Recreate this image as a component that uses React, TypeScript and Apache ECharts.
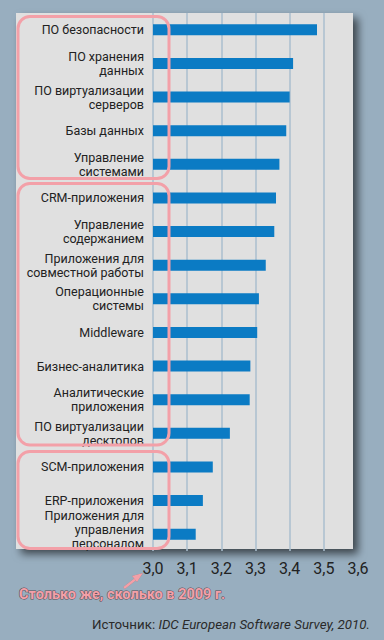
import React, { useEffect, useRef } from "react";
import * as echarts from "echarts";

const categories = [
  "ПО безопасности",
  "ПО хранения\nданных",
  "ПО виртуализации\nсерверов",
  "Базы данных",
  "Управление\nсистемами",
  "CRM-приложения",
  "Управление\nсодержанием",
  "Приложения для\nсовместной работы",
  "Операционные\nсистемы",
  "Middleware",
  "Бизнес-аналитика",
  "Аналитические\nприложения",
  "ПО виртуализации\nдесктопов",
  "SCM-приложения",
  "ERP-приложения",
  "Приложения для\nуправления\nперсоналом",
];
const values = [3.48, 3.41, 3.4, 3.39, 3.37, 3.36, 3.355, 3.33, 3.31, 3.305, 3.285, 3.283, 3.225, 3.175, 3.146, 3.125];
const tickMin = 3.0;
const tickMax = 3.6;
const tickStep = 0.1;
const note = "Столько же, сколько в 2009 г.";
const sourceLabel = "Источник: ";
const sourceText = "IDC European Software Survey, 2010.";

const FONT = "Roboto, 'Liberation Sans', sans-serif";
const PINK = "#f3a0a8";

export default function App() {
  const ref = useRef<HTMLDivElement>(null);
  useEffect(() => {
    document.body.style.margin = "0";
    const chart = echarts.init(ref.current!, null, { renderer: "svg" });
    const box = (x: number, y: number, w: number, h: number) => ({
      type: "rect",
      z: 50,
      shape: { x, y, width: w, height: h, r: 12 },
      style: { fill: "none", stroke: PINK, lineWidth: 3 },
    });
    chart.setOption({
      animation: false,
      backgroundColor: "#98aebf",
      grid: { left: 153, top: 13, width: 205, height: 538, containLabel: false },
      xAxis: {
        type: "value",
        min: tickMin,
        max: tickMax,
        interval: tickStep,
        axisLine: { show: false },
        axisTick: { show: false },
        axisLabel: {
          margin: 9,
          fontFamily: FONT,
          fontSize: 16,
          color: "#222",
          formatter: (v: number) => v.toFixed(1).replace(".", ","),
        },
        splitLine: { show: true, showMaxLine: false, lineStyle: { color: "#abbfcf", width: 1.5 } },
      },
      yAxis: {
        type: "category",
        data: categories,
        inverse: true,
        axisLine: { show: false },
        axisTick: { show: false },
        axisLabel: {
          margin: 9,
          fontFamily: FONT,
          fontSize: 12.5,
          lineHeight: 14,
          color: "#222",
          interval: 0,
          formatter: (v: string) =>
            v.split("\n").length > 2 ? "{t|" + v + "}\n{e| }" : v,
          rich: {
            t: { fontFamily: FONT, fontSize: 12.5, lineHeight: 14, color: "#222", align: "right" },
            e: { fontSize: 5, lineHeight: 10 },
          },
        },
      },
      series: [
        {
          type: "bar",
          data: values,
          barWidth: 11,
          itemStyle: { color: "#0b7bc4" },
          z: 3,
        },
      ],
      graphic: [
        {
          type: "rect",
          z: -1,
          shape: { x: 16, y: 13, width: 337, height: 536 },
          style: {
            fill: "#e0e0e0",
            shadowBlur: 8,
            shadowOffsetX: 5,
            shadowOffsetY: 5,
            shadowColor: "rgba(0,0,0,0.6)",
          },
        },
        box(18, 16.5, 151, 162),
        box(18, 183.5, 151, 261.5),
        box(18, 451.5, 151, 97),
        {
          type: "line",
          z: 50,
          shape: { x1: 124, y1: 588, x2: 137, y2: 578 },
          style: { stroke: PINK, lineWidth: 2.5, shadowBlur: 1, shadowColor: "rgba(0,0,0,0.6)" },
        },
        {
          type: "polygon",
          z: 50,
          shape: { points: [[143, 573], [132, 576], [137, 582]] },
          style: { fill: PINK, shadowBlur: 1, shadowColor: "rgba(0,0,0,0.6)" },
        },
        {
          type: "text",
          z: 50,
          x: 19,
          y: 594,
          style: {
            text: note,
            fontFamily: FONT,
            fontWeight: "bold",
            fontSize: 14.5,
            fill: PINK,
            stroke: "#5a4a50",
            lineWidth: 1,
            verticalAlign: "middle",
          },
        },
        {
          type: "text",
          z: 50,
          x: 370,
          y: 624,
          style: {
            text: "{a|" + sourceLabel + "}{b|" + sourceText + "}",
            align: "right",
            verticalAlign: "middle",
            rich: {
              a: { fontFamily: FONT, fontSize: 13.3, fill: "#2a2a2a" },
              b: { fontFamily: FONT, fontSize: 13.3, fontStyle: "italic", fill: "#2a2a2a" },
            },
          },
        },
      ],
    });
    return () => chart.dispose();
  }, []);
  return <div ref={ref} style={{ width: 384, height: 640 }} />;
}
